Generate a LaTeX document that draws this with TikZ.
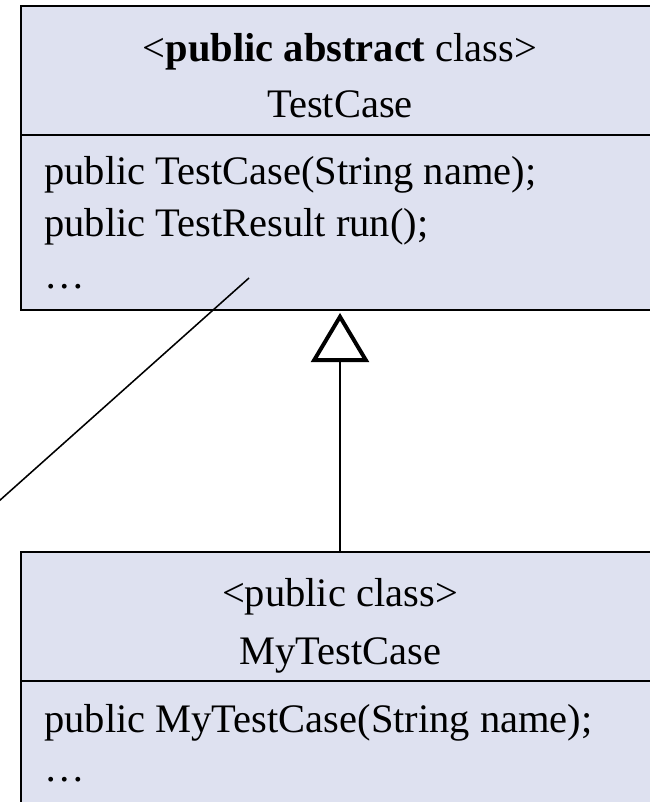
\documentclass[tikz,border=0pt]{standalone}
\usepackage{fontspec}
\setmainfont{Liberation Serif}
\usetikzlibrary{positioning,arrows.meta}

\definecolor{classfill}{RGB}{222,225,240}
\newcommand{\umlfont}{\fontsize{28.8}{37}\selectfont}

\tikzset{
  classhead/.style={rectangle,draw,fill=classfill,line width=1.4pt,inner sep=0pt,outer sep=0pt,
    minimum width=15.95cm,minimum height=3.225cm},
  classbody/.style={classhead,minimum height=4.375cm},
  umltext/.style={font=\umlfont,inner sep=0pt},
  wire/.style={line width=1.1pt}
}

\begin{document}
\begin{tikzpicture}[x=0.025cm,y=0.025cm]
\useasboundingbox (0,0) rectangle (650,802);
\clip (0,0) rectangle (650,802);

% abstract base class
\node[classhead] (tchead) at (340,731.5) {};
\node[classbody,below=0pt of tchead] (tcbody) {};
\node[umltext,anchor=base] (tcstereo) at (340,740) {<\textbf{public abstract} class>};
\node[umltext,anchor=base] (tcname) at (340,684) {TestCase};
\node[umltext,anchor=base west] (tcctor) at (44,617) {public TestCase(String name);};
\node[umltext,anchor=base west] (tcrun) at (44,565) {public TestResult run();};
\node[umltext,anchor=base west] (tcmore) at (44,513) {…};

% subclass
\node[classhead] (mtchead) at (340,185.5) {};
\node[classbody,minimum height=3.125cm,below=0pt of mtchead] (mtcbody) {};
\node[umltext,anchor=base] (mtcstereo) at (340,195) {<public class>};
\node[umltext,anchor=base] (mtcname) at (340,137) {MyTestCase};
\node[umltext,anchor=base west] (mtcctor) at (44,69) {public MyTestCase(String name);};
\node[umltext,anchor=base west] (mtcmore) at (44,20) {…};

% generalization
\draw[wire,-{Triangle[open,length=35pt,width=41pt,line width=2.8pt]},shorten >=2pt]
  (mtchead.north) -- (tcbody.south);

% pointer leaving the page
\coordinate (runref) at (249,524);
\coordinate (offleft) at (-20,284);
\draw[wire] (runref) -- (offleft);
\end{tikzpicture}
\end{document}
